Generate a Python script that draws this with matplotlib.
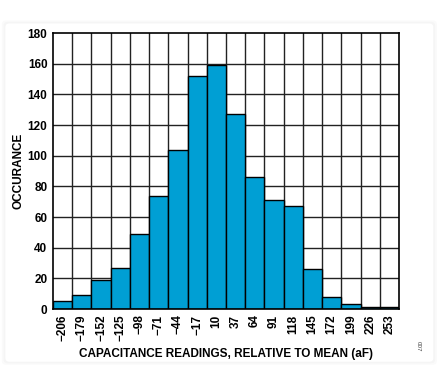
import numpy as np
import matplotlib
matplotlib.use("Agg")
import matplotlib.pyplot as plt
from matplotlib.patches import FancyBboxPatch

# histogram of capacitance readings
bin_labels = ["\u2212206", "\u2212179", "\u2212152", "\u2212125", "\u221298", "\u221271",
              "\u221244", "\u221217", "10", "37", "64", "91", "118", "145",
              "172", "199", "226", "253"]
counts = [5, 9, 19, 27, 49, 74, 104, 152, 159, 127, 86, 71, 67, 26, 8, 3, 1, 1]
y_ticks = [0, 20, 40, 60, 80, 100, 120, 140, 160, 180]

plt.rcParams["font.family"] = ["Liberation Sans", "DejaVu Sans"]
plt.rcParams["font.weight"] = "bold"

fig = plt.figure(figsize=(4.4, 3.7), dpi=100, facecolor="white")

# card background with soft shadow
for i, a in enumerate([0.025, 0.02, 0.02]):
    fig.patches.append(FancyBboxPatch((0.012 - i*0.004, 0.022 - i*0.004),
                                      0.973 + i*0.008, 0.915 + i*0.008,
                                      boxstyle="round,pad=0,rounding_size=0.01",
                                      transform=fig.transFigure, facecolor="black",
                                      edgecolor="none", alpha=a, zorder=-3))
fig.patches.append(FancyBboxPatch((0.012, 0.022), 0.973, 0.915,
                                  boxstyle="round,pad=0,rounding_size=0.01",
                                  transform=fig.transFigure, facecolor="white",
                                  edgecolor="none", zorder=-2))

ax = fig.add_axes([53/440, 1 - 309/370, (399-53)/440, (309-33)/370])
ax.set_facecolor("none")

n = len(counts)
x = np.arange(n)
ax.bar(x, counts, width=1.0, align="edge", color="#009fd4",
       edgecolor="black", linewidth=1.0, zorder=3)

ax.set_xlim(0, n)
ax.set_ylim(0, 180)
ax.set_yticks(y_ticks)
ax.set_xticks(x + 0.5)
ax.set_xticklabels(bin_labels, rotation=90, fontsize=8.5, fontweight="bold")
ax.set_yticklabels([str(v) for v in y_ticks], fontsize=8.5, fontweight="bold")
ax.tick_params(length=0, pad=4)

# grid on bin edges
for xe in range(1, n):
    ax.axvline(xe, color="#222222", linewidth=1.0, zorder=1)
for yv in y_ticks[1:-1]:
    ax.axhline(yv, color="#222222", linewidth=1.0, zorder=1)
for s in ax.spines.values():
    s.set_linewidth(1.2)
    s.set_zorder(4)

ax.set_ylabel("OCCURANCE", fontsize=8.5, fontweight="bold", labelpad=2)
ax.set_xlabel("CAPACITANCE READINGS, RELATIVE TO MEAN (aF)", fontsize=8.5,
              fontweight="bold", labelpad=5)

fig.text(418/440, 1 - 346/370, "007", rotation=270, fontsize=4.5,
         fontweight="normal", ha="center", va="center", color="#444444")

fig.savefig("out.png", dpi=100, facecolor="white")
